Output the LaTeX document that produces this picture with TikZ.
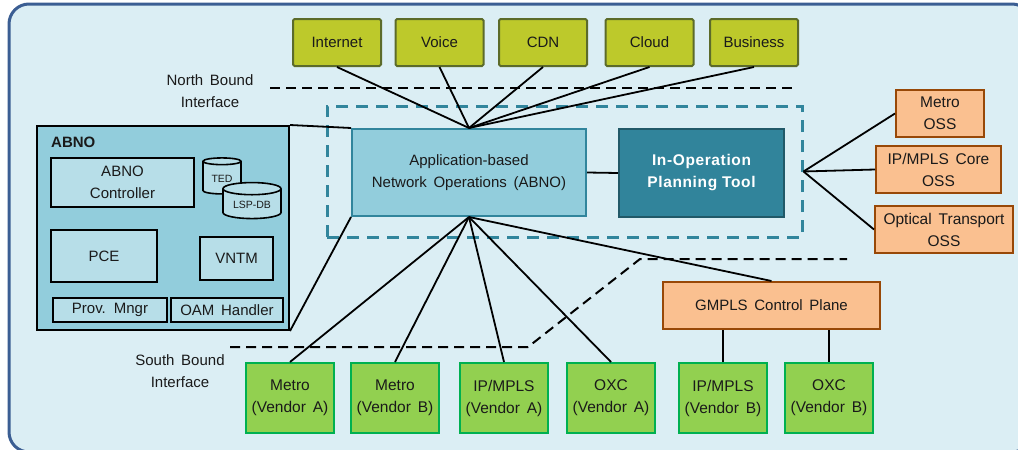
\documentclass[tikz,border=0pt]{standalone}
\usepackage{fontspec}
\setmainfont{Liberation Sans}[WordSpace=1.6]
\newfontfamily\ioptfont{Liberation Sans}[LetterSpace=4]
\usetikzlibrary{shapes.geometric}
\definecolor{bgfill}{HTML}{DBEEF4}
\definecolor{bgline}{HTML}{3B5E93}
\definecolor{svcfill}{HTML}{BDC92B}
\definecolor{svcline}{HTML}{5C6B2A}
\definecolor{abnofill}{HTML}{92CDDC}
\definecolor{abnoline}{HTML}{31859C}
\definecolor{ioptfill}{HTML}{31849B}
\definecolor{ioptline}{HTML}{215968}
\definecolor{innerfill}{HTML}{B7DEE8}
\definecolor{ossfill}{HTML}{FAC090}
\definecolor{ossline}{HTML}{984807}
\definecolor{vendfill}{HTML}{92D050}
\definecolor{vendline}{HTML}{00B050}
\definecolor{txt}{HTML}{1A1A1A}
\newcommand\fsz{\fontsize{15}{22}\selectfont}
\newcommand\fszs{\fontsize{10.5}{12}\selectfont}
\begin{document}
\begin{tikzpicture}[x=1pt,y=-1pt,
  basebox/.style={line width=2pt, inner sep=0pt, align=center, font=\fsz, text=txt},
  svc/.style={basebox, draw=svcline, fill=svcfill, minimum width=88pt, minimum height=47pt, rounded corners=1.5pt},
  abnobig/.style={basebox, draw=abnoline, fill=abnofill, minimum width=234pt, minimum height=87pt},
  iopt/.style={basebox, draw=ioptline, fill=ioptfill, text=white, font=\ioptfont\bfseries\fontsize{15.5}{22}\selectfont, minimum width=165pt, minimum height=88pt},
  opsbox/.style={draw=abnoline, line width=3pt, dash pattern=on 12pt off 8pt, minimum width=475pt, minimum height=131pt, inner sep=0pt},
  outerbox/.style={basebox, draw=black, fill=abnofill},
  inner/.style={basebox, draw=black, fill=innerfill},
  dbcyl/.style={cylinder, shape border rotate=90, aspect=0.32, draw=black, line width=1.6pt, fill=innerfill, inner sep=0pt, font=\fszs, text=txt},
  oss/.style={basebox, draw=ossline, fill=ossfill, minimum height=47pt, font=\fontsize{15.5}{22}\selectfont},
  vend/.style={basebox, draw=vendline, fill=vendfill, minimum width=88pt, minimum height=70pt, font=\fontsize{15.5}{22}\selectfont},
  link/.style={draw=black, line width=1.8pt},
  bound/.style={draw=black, line width=2pt, dash pattern=on 10pt off 6pt},
  lbl/.style={align=center, font=\fsz, text=txt, inner sep=0pt}
]
\useasboundingbox (0,0) rectangle (1018,450);
% background panel
\draw[line width=3pt, draw=bgline, fill=bgfill, rounded corners=20pt] (9,4) rectangle (1032,452);

% boundary dashed lines
\coordinate (nb1) at (270,88);
\coordinate (nb2) at (798,88);
\draw[bound] (nb1) -- (nb2);
\coordinate (sb1) at (230,347);
\coordinate (sb2) at (528,347);
\coordinate (sb3) at (640,259);
\coordinate (sb4) at (847,259);
\draw[bound] (sb1) -- (sb2) -- (sb3) -- (sb4);
\node[lbl] (nbl) at (210,91) {North Bound\\Interface};
\node[lbl] (sbl) at (180,371) {South Bound\\Interface};

% services
\node[svc] (inet) at (337,42.5) {Internet};
\node[svc] (voice) at (439.5,42.5) {Voice};
\node[svc] (cdn) at (543,42.5) {CDN};
\node[svc] (cloud) at (649.5,42.5) {Cloud};
\node[svc] (bus) at (754,42.5) {Business};

% operations area
\node[opsbox] (ops) at (564.5,171.5) {};
\node[abnobig] (abno) at (469,172.5) {Application-based\\Network Operations (ABNO)};
\node[iopt] (iop) at (701.5,173) {In-Operation\\Planning Tool};
\draw[link] (abno.east) -- (iop.west);
\foreach \s in {inet,voice,cdn,cloud,bus} \draw[link] (\s.south) -- (abno.north);

% ABNO detail
\node[outerbox, minimum width=252pt, minimum height=204pt] (abnoL) at (163,228) {};
\node[font=\bfseries\fsz, text=txt, anchor=west, inner sep=0pt] (abnolbl) at (51,142) {ABNO};
\node[inner, minimum width=143pt, minimum height=49pt] (ctrl) at (122.5,182.5) {ABNO\\Controller};
\node[inner, minimum width=106pt, minimum height=52pt] (pce) at (104,256) {PCE};
\node[inner, minimum width=73pt, minimum height=43pt] (vntm) at (236.5,258.5) {VNTM};
\node[inner, minimum width=114pt, minimum height=24pt] (prov) at (110,310) {Prov. Mngr};
\node[inner, minimum width=112pt, minimum height=24pt] (oam) at (227,310) {OAM Handler};
\node[dbcyl, minimum width=38pt, minimum height=36pt] (ted) at (222,178) {\raisebox{-4pt}[0pt][0pt]{TED}};
\node[dbcyl, minimum width=58pt, minimum height=36pt] (lsp) at (252,204) {\raisebox{-4pt}[0pt][0pt]{LSP-DB}};
\draw[link] (abnoL.north east) -- (abno.north west);
\draw[link] (abnoL.south east) -- (abno.south west);

% OSS
\node[oss, minimum width=88pt] (moss) at (940,113.5) {Metro\\OSS};
\node[oss, minimum width=125pt] (iposs) at (938.5,169.5) {IP/MPLS Core\\OSS};
\node[oss, minimum width=138pt] (otoss) at (944,229.5) {Optical Transport\\OSS};
\foreach \o in {moss,iposs,otoss} \draw[link] (ops.east) -- (\o.west);

% GMPLS and vendors
\node[oss, minimum width=217pt, font=\fsz] (gmpls) at (771.5,305.5) {GMPLS Control Plane};
\node[vend] (ma) at (290,398) {Metro\\(Vendor A)};
\node[vend] (mb) at (395,398) {Metro\\(Vendor B)};
\node[vend] (ipa) at (504,398) {IP/MPLS\\(Vendor A)};
\node[vend] (oxa) at (611,398) {OXC\\(Vendor A)};
\node[vend] (ipb) at (723,398) {IP/MPLS\\(Vendor B)};
\node[vend] (oxb) at (829,398) {OXC\\(Vendor B)};
\foreach \v in {ma,mb,ipa,oxa} \draw[link] (abno.south) -- (\v.north);
\draw[link] (abno.south) -- (gmpls.north);
\draw[link] (ipb.north) -- (ipb.north |- gmpls.south);
\draw[link] (oxb.north) -- (oxb.north |- gmpls.south);
\end{tikzpicture}
\end{document}
